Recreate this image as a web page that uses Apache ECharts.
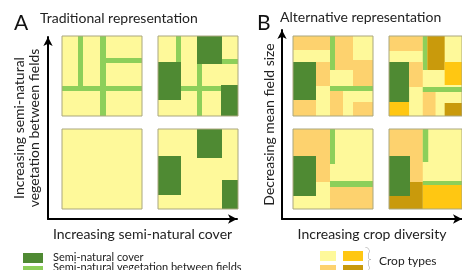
<!DOCTYPE html>
<html>
<head>
<meta charset="utf-8">
<script src="https://cdn.jsdelivr.net/npm/echarts@6/dist/echarts.min.js"></script>
<style>
html, body { margin: 0; padding: 0; background: #fff; }
#main { width: 462px; height: 270px; }
</style>
</head>
<body>
<div id="main"></div>
<script>
// land types: 0 crop (pale yellow), 1 vegetation strip, 2 semi-natural cover,
// 3 crop (light orange), 4 crop (gold), 5 crop (dark gold)
// each cell: [x0, y0, x1, y1, land type] in panel units (0-80)
var traditionalTopLeft = [
    [0, 0, 80, 80, 0],
    [16, 0, 21, 50, 1],
    [38, 0, 44, 80, 1],
    [0, 50, 80, 55, 1],
    [44, 22, 80, 27, 1]
];
var traditionalTopRight = [
    [0, 0, 80, 80, 0],
    [18, 0, 23, 26, 1],
    [39, 28, 44, 80, 1],
    [23, 50, 63, 55, 1],
    [64, 23, 80, 28, 1],
    [39, 0, 64, 28, 2],
    [0, 26, 23, 64, 2],
    [63, 49, 80, 80, 2]
];
var traditionalBottomLeft = [
    [0, 0, 80, 80, 0]
];
var traditionalBottomRight = [
    [0, 0, 80, 80, 0],
    [39, 0, 64, 29, 2],
    [0, 27, 23, 66, 2],
    [64, 51, 80, 80, 2]
];
var alternativeTopLeft = [
    [0, 0, 80, 80, 0],
    [0, 0, 37, 14, 3],
    [37, 0, 42, 34, 1],
    [42, 0, 60, 34, 3],
    [60, 24, 80, 51, 3],
    [0, 26, 23, 64, 2],
    [23, 26, 37, 50, 3],
    [37, 50, 80, 55, 1],
    [37, 55, 50, 80, 3],
    [60, 66, 80, 80, 3],
    [0, 64, 23, 80, 3]
];
var alternativeTopRight = [
    [0, 0, 80, 80, 0],
    [0, 0, 37, 15, 3],
    [37, 0, 42, 34, 1],
    [42, 0, 61, 34, 5],
    [61, 26, 80, 49, 4],
    [0, 26, 22, 66, 2],
    [22, 26, 37, 51, 3],
    [37, 51, 80, 56, 1],
    [37, 56, 51, 80, 3],
    [61, 67, 80, 80, 5],
    [0, 66, 22, 80, 4]
];
var alternativeBottomLeft = [
    [0, 0, 80, 80, 0],
    [0, 0, 37, 53, 3],
    [37, 0, 42, 35, 1],
    [0, 27, 23, 67, 2],
    [37, 52, 80, 58, 1],
    [37, 58, 80, 80, 3]
];
var alternativeBottomRight = [
    [0, 0, 80, 80, 0],
    [0, 0, 37, 53, 3],
    [37, 0, 43, 33, 1],
    [0, 27, 23, 67, 2],
    [37, 52, 80, 56, 1],
    [37, 56, 80, 80, 4],
    [23, 53, 37, 80, 5],
    [0, 67, 23, 80, 5]
];

var landColors = ['#fef99a', '#8dcf5a', '#4f8a33', '#fdd26e', '#ffc712', '#c99a0c'];
var fontName = 'Lato';

var panels = [
    { left: 62, top: 36, cells: traditionalTopLeft },
    { left: 158, top: 36, cells: traditionalTopRight },
    { left: 62, top: 129, cells: traditionalBottomLeft },
    { left: 158, top: 129, cells: traditionalBottomRight },
    { left: 293, top: 36, cells: alternativeTopLeft },
    { left: 389, top: 36, cells: alternativeTopRight },
    { left: 293, top: 129, cells: alternativeBottomLeft },
    { left: 389, top: 129, cells: alternativeBottomRight }
];

function renderCell(params, api) {
    var p0 = api.coord([api.value(0), api.value(1)]);
    var p1 = api.coord([api.value(2), api.value(3)]);
    var shape = { x: p0[0], y: p0[1], width: p1[0] - p0[0], height: p1[1] - p0[1] };
    var fill = { type: 'rect', shape: shape, style: { fill: landColors[api.value(4)] } };
    if (params.dataIndex === 0) {
        // panel background + thin frame on top of everything
        return {
            type: 'group',
            children: [
                fill,
                { type: 'rect', shape: shape, z2: 100, style: { fill: 'none', stroke: '#aaa77e', lineWidth: 1 } }
            ]
        };
    }
    return fill;
}

var grids = [], xAxes = [], yAxes = [], series = [];
panels.forEach(function (p, i) {
    grids.push({ left: p.left, top: p.top, width: 80, height: 80 });
    xAxes.push({ gridIndex: i, type: 'value', min: 0, max: 80, show: false });
    yAxes.push({ gridIndex: i, type: 'value', min: 0, max: 80, inverse: true, show: false });
    series.push({
        type: 'custom',
        xAxisIndex: i,
        yAxisIndex: i,
        renderItem: renderCell,
        silent: true,
        data: p.cells
    });
});

// arrow frames for the two diagrams
function arrowAxis(idx, name, gap, rotate) {
    return {
        gridIndex: idx,
        type: 'value',
        min: 0,
        max: 1,
        axisLine: {
            show: true,
            symbol: ['none', 'arrow'],
            symbolSize: [7, 9],
            lineStyle: { color: '#000', width: 2 }
        },
        axisTick: { show: false },
        axisLabel: { show: false },
        splitLine: { show: false },
        name: name,
        nameLocation: 'middle',
        nameGap: gap,
        nameRotate: rotate,
        nameTextStyle: { fontFamily: fontName, fontSize: 14, color: '#222', lineHeight: 15 }
    };
}
grids.push({ left: 48, top: 37, width: 189, height: 182 });
grids.push({ left: 282, top: 30, width: 186, height: 189 });
xAxes.push(arrowAxis(8, 'Increasing semi-natural cover', 8));
yAxes.push(arrowAxis(8, 'Increasing semi-natural\nvegetation between fields', 6, 90));
xAxes.push(arrowAxis(9, 'Increasing crop diversity', 8));
yAxes.push(arrowAxis(9, 'Decreasing mean field size', 5, 90));

var dom = document.getElementById('main');
var myChart = echarts.init(dom, null, { renderer: 'canvas' });
var option = {
    backgroundColor: '#fff',
    animation: false,
    grid: grids,
    xAxis: xAxes,
    yAxis: yAxes,
    series: series,
    graphic: [
        { type: 'text', left: 14, top: 13, style: { text: 'A', fontFamily: fontName, fontSize: 21, fill: '#111' } },
        { type: 'text', left: 40, top: 11, style: { text: 'Traditional representation', fontFamily: fontName, fontSize: 14, fill: '#222' } },
        { type: 'text', left: 257, top: 13, style: { text: 'B', fontFamily: fontName, fontSize: 21, fill: '#111' } },
        { type: 'text', left: 280, top: 10, style: { text: 'Alternative representation', fontFamily: fontName, fontSize: 14, fill: '#222' } },
        // legend for panel A
        { type: 'rect', shape: { x: 23, y: 253, width: 20, height: 10 }, style: { fill: landColors[2] } },
        { type: 'rect', shape: { x: 23, y: 266, width: 20, height: 10 }, style: { fill: landColors[1] } },
        { type: 'text', left: 53, top: 252, style: { text: 'Semi-natural cover', fontFamily: fontName, fontSize: 11, fill: '#222' } },
        { type: 'text', left: 53, top: 262, style: { text: 'Semi-natural vegetation between fields', fontFamily: fontName, fontSize: 11, fill: '#222' } },
        // legend for panel B
        { type: 'rect', shape: { x: 320, y: 251, width: 16, height: 10 }, style: { fill: landColors[0] } },
        { type: 'rect', shape: { x: 343, y: 251, width: 20, height: 10 }, style: { fill: landColors[4] } },
        { type: 'rect', shape: { x: 320, y: 265, width: 16, height: 10 }, style: { fill: landColors[3] } },
        { type: 'rect', shape: { x: 343, y: 265, width: 20, height: 10 }, style: { fill: landColors[5] } },
        { type: 'text', left: 364, top: 245, style: { text: '}', fontFamily: fontName, fontSize: 28, fontWeight: 200, fill: '#555' } },
        { type: 'text', left: 379, top: 255, style: { text: 'Crop types', fontFamily: fontName, fontSize: 12, fill: '#222' } }
    ]
};
if (option && typeof option === "object") {
    myChart.setOption(option, true);
}
</script>
</body>
</html>
